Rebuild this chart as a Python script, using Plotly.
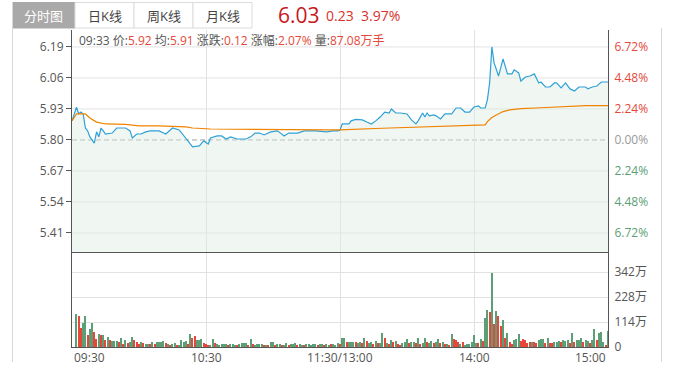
import plotly.graph_objects as go

# ---------------- data ----------------
prev_close = 5.80
last_price = "6.03"
change_abs = "0.23"
change_pct = "3.97%"

price_minutes = [0, 2, 3, 4, 5, 6, 7, 8, 10, 11, 12, 13, 14, 15, 18, 20, 24, 26, 27, 29,
                 31, 33, 35, 39, 42, 45, 48, 50, 54, 57, 59, 61, 62, 65, 67, 69, 71, 74, 78, 80,
                 82, 84, 86, 89, 92, 95, 97, 101, 104, 109, 112, 114, 117, 119, 120, 121, 124, 125, 127, 130,
                 132, 134, 136, 138, 140, 142, 143, 145, 147, 150, 152, 154, 155, 157, 158, 159, 160, 162, 163, 165,
                 167, 170, 172, 174, 176, 178, 180, 182, 183, 185, 186, 187, 188, 189, 191, 193, 195, 197, 198, 200,
                 201, 203, 205, 207, 209, 210, 212, 214, 216, 217, 219, 221, 223, 225, 227, 230, 231, 233, 235, 237, 240]
prices = [5.880, 5.937, 5.910, 5.917, 5.909, 5.850, 5.838, 5.813, 5.787, 5.834, 5.813, 5.850, 5.838, 5.825, 5.829, 5.850, 5.850, 5.838, 5.808, 5.825,
          5.825, 5.834, 5.838, 5.838, 5.825, 5.850, 5.842, 5.817, 5.771, 5.775, 5.796, 5.783, 5.808, 5.817, 5.817, 5.804, 5.813, 5.804, 5.804, 5.813,
          5.829, 5.829, 5.821, 5.834, 5.838, 5.817, 5.829, 5.829, 5.838, 5.838, 5.834, 5.834, 5.838, 5.838, 5.842, 5.867, 5.867, 5.880, 5.886, 5.884,
          5.875, 5.867, 5.880, 5.896, 5.917, 5.913, 5.930, 5.913, 5.913, 5.909, 5.884, 5.867, 5.880, 5.913, 5.896, 5.913, 5.901, 5.905, 5.901, 5.888,
          5.909, 5.909, 5.934, 5.934, 5.917, 5.917, 5.938, 5.943, 5.934, 5.934, 5.968, 6.039, 6.190, 6.123, 6.068, 6.140, 6.077, 6.077, 6.094, 6.081,
          6.047, 6.064, 6.068, 6.077, 6.039, 6.043, 6.022, 6.022, 6.039, 6.039, 6.018, 6.039, 6.014, 6.005, 6.022, 6.022, 6.014, 6.022, 6.026, 6.043, 6.043]

avg_minutes = [0, 2, 6, 8, 11, 15, 24, 30, 39, 51, 54, 62, 114, 120, 139, 152, 171, 185,
               186, 188, 190, 193, 196, 201, 210, 220, 230, 240]
avg_prices = [5.880, 5.909, 5.909, 5.892, 5.875, 5.867, 5.865, 5.859, 5.859, 5.855, 5.850, 5.846, 5.842, 5.842,
              5.849, 5.853, 5.859, 5.863, 5.877, 5.894, 5.905, 5.919, 5.926, 5.931, 5.935, 5.940, 5.944, 5.944]

# volume per minute (万手), minutes 1..240
vol_am = [0, 149, 140, 88, 112, 144, 53, 81, 108, 67, 35, 58, 53, 53, 30, 44, 30, 26, 26, 26,
          21, 40, 15, 30, 18, 21, 44, 30, 21, 14, 21, 17, 15, 12, 12, 21, 12, 21, 21, 21,
          26, 17, 12, 9, 12, 17, 9, 8, 30, 21, 26, 12, 58, 40, 49, 30, 30, 35, 17, 12,
          9, 5, 35, 17, 12, 10, 12, 12, 15, 9, 14, 15, 10, 8, 15, 17, 17, 17, 9, 35,
          12, 9, 12, 12, 12, 9, 8, 9, 21, 21, 9, 12, 12, 9, 8, 17, 9, 12, 14, 17,
          8, 12, 9, 8, 12, 12, 9, 12, 12, 9, 12, 12, 9, 12, 9, 12, 15, 9, 17, 12]
vol_pm = [40, 40, 21, 21, 21, 21, 21, 18, 21, 17, 43, 27, 18, 21, 14, 26, 18, 18, 62, 40,
          17, 14, 30, 21, 26, 14, 10, 17, 21, 35, 17, 21, 21, 17, 43, 14, 17, 40, 21, 17,
          26, 17, 21, 35, 17, 21, 14, 14, 10, 59, 35, 30, 21, 14, 21, 10, 14, 14, 21, 55,
          17, 17, 35, 26, 131, 167, 158, 339, 103, 163, 140, 94, 122, 43, 62, 21, 14, 30, 35, 58,
          26, 35, 32, 17, 21, 21, 21, 17, 30, 35, 35, 17, 43, 17, 17, 21, 21, 26, 21, 30,
          26, 30, 17, 62, 21, 30, 30, 40, 21, 30, 26, 17, 30, 81, 30, 62, 70, 21, 5, 72]
dir_am = list("GGRRGGRGGR" "RGRGRGRGGG" "RGRGRGGRRR" "GRGGRGRGGG" "GRGRGGRGGG" "GRGRRGGGRR"
              "RGGRGGGGGR" "GGGRGGGGRG" "RGGGGRGRGG" "RGGRGGRGGG" "RGGRGGGGGR" "GGRGGRGGGR")
dir_pm = list("GGRGGGRGGR" "GRGGRGRGGR" "GRGRGRRGGG" "RGGRGRGGRG" "GRGGRGRGRG" "RRRGRGGGGG"
              "GRGRGGRGRG" "RRGRGRRGGG" "RRRRRGRRGG" "GRGRRGGGRG" "GGRGRGGGRG" "GRGGRGGGRG")

volumes = vol_am + vol_pm
directions = dir_am + dir_pm
vol_minutes = list(range(1, len(volumes) + 1))

price_ticks = [6.19, 6.06, 5.93, 5.80, 5.67, 5.54, 5.41]
pct_ticks = ["6.72%", "4.48%", "2.24%", "0.00%", "2.24%", "4.48%", "6.72%"]
vol_ticks = [0, 114, 228, 342]
vol_tick_text = ["0", "114万", "228万", "342万"]
time_ticks = [0, 60, 120, 180, 240]
time_labels = ["09:30", "10:30", "11:30/13:00", "14:00", "15:00"]

info_labels = ["价", "均", "涨跌", "涨幅", "量"]
info_values = ["5.92", "5.91", "0.12", "2.07%", "87.08万手"]
info_time = "09:33"
tabs = ["分时图", "日K线", "周K线", "月K线"]

# ---------------- style ----------------
W, H = 679, 383
RED = "#e5483a"
GREEN = "#5c9e76"
GRID = "#e2e2e2"
AXIS = "#555555"
FONT = "Open Sans, Noto Sans CJK SC, sans-serif"

def px(x):
    return x / W

def py(y):
    return 1 - y / H

x_dom = [px(72), px(608)]
main_dom = [py(253), py(30)]
vol_dom = [py(347), py(253)]

fig = go.Figure()

fig.add_trace(go.Scatter(
    x=price_minutes, y=prices, mode="lines", fill="tozeroy",
    fillcolor="rgba(222,238,228,0.45)",
    line=dict(color="#2ea1d6", width=1.2), xaxis="x", yaxis="y", hoverinfo="skip"))
fig.add_trace(go.Scatter(
    x=avg_minutes, y=avg_prices, mode="lines",
    line=dict(color="#f08300", width=1.2), xaxis="x", yaxis="y", hoverinfo="skip"))
fig.add_trace(go.Scatter(
    x=[0], y=[prev_close], mode="markers", marker=dict(opacity=0),
    xaxis="x", yaxis="y2", hoverinfo="skip"))
fig.add_trace(go.Bar(
    x=vol_minutes, y=volumes, width=0.55,
    marker=dict(color=[RED if d == "R" else GREEN for d in directions], line=dict(width=0)),
    xaxis="x2", yaxis="y3", hoverinfo="skip"))

def pct_color(i):
    if price_ticks[i] > prev_close:
        return RED
    if price_ticks[i] < prev_close:
        return GREEN
    return "#999999"

pct_text = ['<span style="color:%s">%s</span>' % (pct_color(i), t) for i, t in enumerate(pct_ticks)]

fig.update_layout(
    width=W, height=H, margin=dict(l=0, r=0, t=0, b=0, autoexpand=False),
    paper_bgcolor="white", plot_bgcolor="rgba(0,0,0,0)",
    showlegend=False, bargap=0,
    font=dict(family=FONT, size=12, color=AXIS),
    xaxis=dict(domain=x_dom, range=[0, 240], anchor="y", tickvals=time_ticks[1:-1],
               showticklabels=False, showgrid=True, gridcolor=GRID, zeroline=False,
               showline=False, ticks="", automargin=False),
    yaxis=dict(domain=main_dom, range=[5.326, 6.261], tickvals=price_ticks,
               ticktext=["%.2f" % v for v in price_ticks], side="left", showgrid=False,
               zeroline=False, showline=True, linecolor=AXIS, linewidth=1, automargin=False,
               ticks="outside", ticklen=5, tickcolor=AXIS, tickfont=dict(size=12, color=AXIS)),
    yaxis2=dict(overlaying="y", anchor="x", side="right", range=[5.326, 6.261],
                tickvals=price_ticks, ticktext=pct_text, showgrid=False, zeroline=False,
                showline=True, linecolor=AXIS, linewidth=1, ticks="outside", ticklen=3,
                tickcolor="rgba(0,0,0,0)", tickfont=dict(size=12), automargin=False),
    xaxis2=dict(domain=x_dom, range=[0, 240], anchor="y3", tickvals=time_ticks[1:-1],
                showticklabels=False, showgrid=True, gridcolor=GRID, zeroline=False,
                showline=True, mirror=True, linecolor=AXIS, linewidth=1, ticks="",
                automargin=False),
    yaxis3=dict(domain=vol_dom, range=[0, 430], anchor="x2", side="right",
                tickvals=vol_ticks, ticktext=vol_tick_text, showgrid=True, gridcolor=GRID,
                zeroline=False, showline=True, mirror=True, linecolor=AXIS, linewidth=1,
                ticks="outside", ticklen=3, tickcolor="rgba(0,0,0,0)", automargin=False,
                tickfont=dict(size=12, color=AXIS)),
)

shapes = []
# main panel horizontal grid lines (dashed at previous close)
for v in price_ticks:
    if v == prev_close:
        shapes.append(dict(type="line", xref="x", yref="y", x0=0, x1=240, y0=v, y1=v,
                           line=dict(color="#a0a0a0", width=1, dash="5px,3px"), layer="below"))
    else:
        shapes.append(dict(type="line", xref="x", yref="y", x0=0, x1=240, y0=v, y1=v,
                           line=dict(color=GRID, width=1), layer="below"))
# outer frame lines
shapes.append(dict(type="line", xref="paper", yref="paper", x0=px(12.5), x1=px(12.5), y0=py(2), y1=py(362),
                   line=dict(color="#d8d8d8", width=1)))
shapes.append(dict(type="line", xref="paper", yref="paper", x0=px(661.5), x1=px(661.5), y0=py(28), y1=py(362),
                   line=dict(color="#d8d8d8", width=1)))
# tabs
tab_edges = [12.5, 75, 134, 193, 252]
for i in range(len(tabs)):
    shapes.append(dict(type="rect", xref="paper", yref="paper",
                       x0=px(tab_edges[i]), x1=px(tab_edges[i + 1]), y0=py(28), y1=py(2.5),
                       fillcolor="#a9a9a9" if i == 0 else "white",
                       line=dict(color="#a9a9a9" if i == 0 else "#dcdcdc", width=1), layer="below"))
fig.update_layout(shapes=shapes)

ann = []
for i, t in enumerate(tabs):
    ann.append(dict(x=px((tab_edges[i] + tab_edges[i + 1]) / 2), y=py(15.5), xref="paper", yref="paper",
                    text=t, showarrow=False, xanchor="center", yanchor="middle",
                    font=dict(size=13, color="white" if i == 0 else "#444444")))
ann.append(dict(x=px(276), y=py(15), xref="paper", yref="paper", text=last_price, showarrow=False,
                xanchor="left", yanchor="middle", font=dict(size=21, color="#c8161d")))
ann.append(dict(x=px(324), y=py(16), xref="paper", yref="paper",
                text="%s  %s" % (change_abs, change_pct), showarrow=False,
                xanchor="left", yanchor="middle", font=dict(size=14, color="#d7322a")))
info = info_time + " " + " ".join(
    '%s:<span style="color:%s">%s</span>' % (l, RED, v) for l, v in zip(info_labels, info_values))
ann.append(dict(x=px(77), y=py(40.5), xref="paper", yref="paper", text=info, showarrow=False,
                xanchor="left", yanchor="middle", font=dict(size=12, color="#555555")))
anchors = ["left", "center", "center", "center", "right"]
for t, lab, a in zip(time_ticks, time_labels, anchors):
    ann.append(dict(x=t, y=py(357), xref="x2", yref="paper", text=lab, showarrow=False,
                    xanchor=a, yanchor="middle", font=dict(size=12, color="#555555")))
fig.update_layout(annotations=ann)

fig.write_html("out.html", config={"displayModeBar": False},
               post_script="document.body.style.margin='0';document.body.style.overflow='hidden';")
